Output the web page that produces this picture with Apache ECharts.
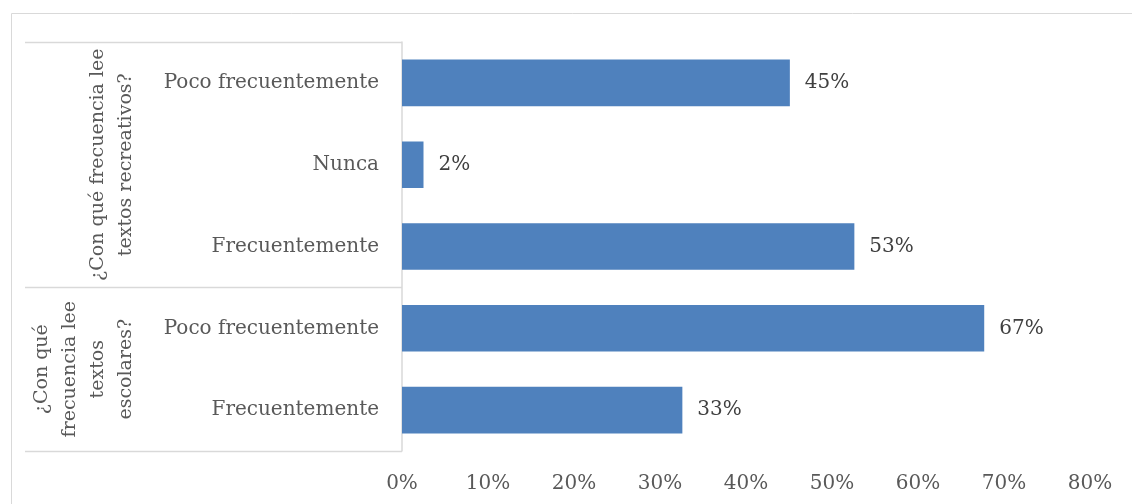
<!DOCTYPE html>
<html>
<head>
<meta charset="utf-8">
<script src="https://cdn.jsdelivr.net/npm/echarts@6/dist/echarts.min.js"></script>
<style>html,body{margin:0;padding:0;background:#fff}#c{width:1132px;height:504px}</style>
</head>
<body>
<div id="c"></div>
<script>
var categories = ["Poco frecuentemente", "Nunca", "Frecuentemente", "Poco frecuentemente", "Frecuentemente"];
var values = [45.1, 2.5, 52.6, 67.7, 32.6];
var valueLabels = ["45%", "2%", "53%", "67%", "33%"];
var groupLabels = ["¿Con qué frecuencia lee\ntextos recreativos?", "¿Con qué\nfrecuencia lee\ntextos\nescolares?"];
var groupSizes = [3, 2];
var xTicks = [0, 10, 20, 30, 40, 50, 60, 70, 80];

var FONT = "DejaVu Serif";
var gridTop = 42, gridBottom = 53, gridLeft = 402, gridRight = 42;
var H = 504, W = 1132;
var plotH = H - gridTop - gridBottom;
var band = plotH / categories.length;

var graphics = [];
graphics.push({type:'rect', shape:{x:11.5, y:13.5, width:1300, height:700}, style:{fill:null, stroke:'#d9d9d9', lineWidth:1}, silent:true});
var idx = 0;
var boundaries = [0];
groupSizes.forEach(function(s){ idx += s; boundaries.push(idx); });
boundaries.forEach(function(b){
  var y = Math.round(gridTop + b * band) + 0.5;
  graphics.push({type:'line', shape:{x1:25, y1:y, x2:gridLeft, y2:y}, style:{stroke:'#d9d9d9', lineWidth:1.5}, silent:true});
});
var start = 0;
groupSizes.forEach(function(s, i){
  var cy = gridTop + (start + s / 2) * band;
  start += s;
  graphics.push({type:'text', x:140, y:cy, rotation:Math.PI/2,
    style:{text:groupLabels[i], font:'19px "' + FONT + '"', fill:'#595959', align:'center', verticalAlign:'bottom', lineHeight:28}, silent:true});
});

var chart = echarts.init(document.getElementById('c'));
chart.setOption({
  animation:false,
  grid:{left:gridLeft, right:gridRight, top:gridTop, bottom:gridBottom, containLabel:false},
  xAxis:{type:'value', min:xTicks[0], max:xTicks[xTicks.length-1], interval:xTicks[1]-xTicks[0],
    axisLine:{show:false}, axisTick:{show:false}, splitLine:{show:false},
    axisLabel:{formatter:'{value}%', color:'#595959', fontFamily:FONT, fontSize:20, margin:23}},
  yAxis:{type:'category', data:categories, inverse:true,
    axisLine:{show:true, lineStyle:{color:'#d9d9d9', width:1.5}},
    axisTick:{show:false},
    axisLabel:{color:'#595959', fontFamily:FONT, fontSize:20, margin:23}},
  series:[{type:'bar', data:values, barCategoryGap:'43%',
    itemStyle:{color:'#4f81bd'},
    label:{show:true, position:'right', distance:15, color:'#404040', fontFamily:FONT, fontSize:20,
      formatter:function(p){return valueLabels[p.dataIndex];}}}],
  graphic:graphics
});
</script>
</body>
</html>
